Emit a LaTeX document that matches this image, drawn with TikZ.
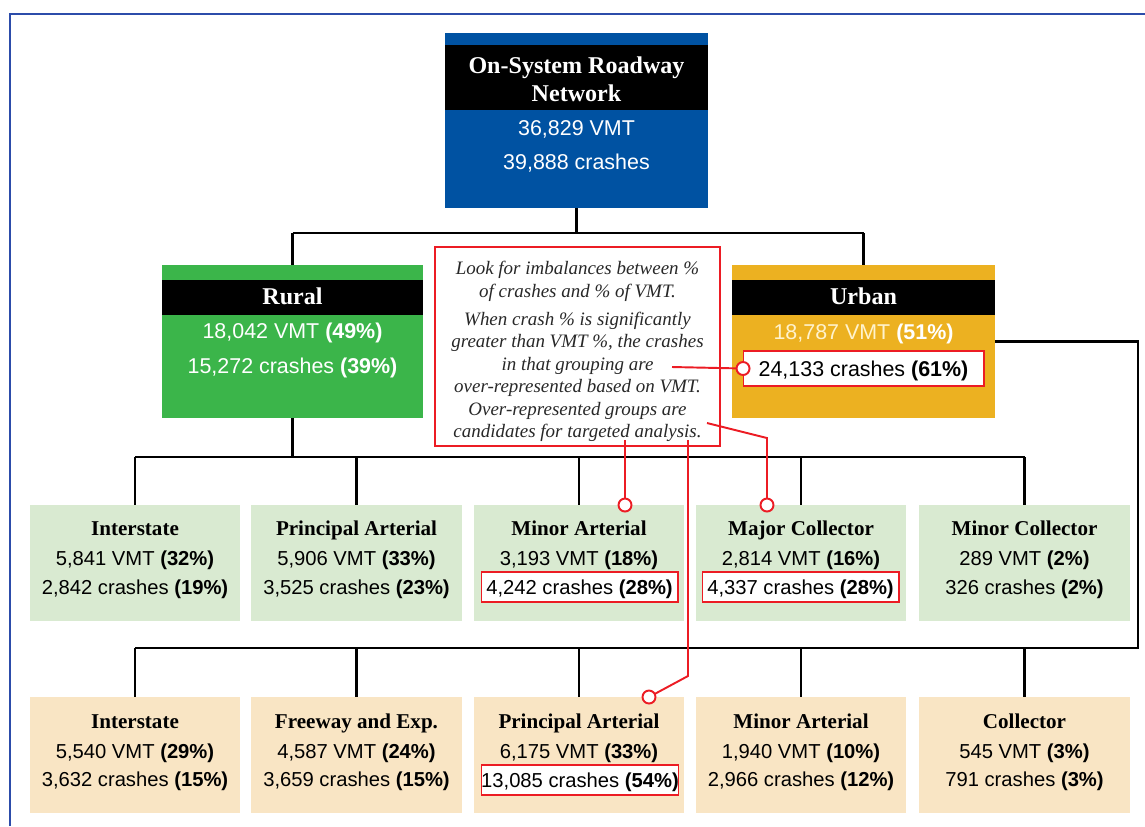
\documentclass[tikz,border=0pt]{standalone}
\usepackage{fontspec}
\setmainfont{Liberation Sans}
\newfontfamily\headfont{Liberation Serif}
\definecolor{netblue}{RGB}{0,82,162}
\definecolor{rurgreen}{RGB}{59,181,74}
\definecolor{urbgold}{RGB}{236,177,33}
\definecolor{rurpale}{RGB}{217,234,209}
\definecolor{urbpale}{RGB}{249,229,196}
\definecolor{notered}{RGB}{236,28,36}
\definecolor{frameblue}{RGB}{44,76,170}
\definecolor{urbtext}{RGB}{255,243,205}
\definecolor{notegray}{RGB}{40,40,40}

\begin{document}
\begin{tikzpicture}[x=0.02cm,y=-0.02cm,
    every node/.style={inner sep=0pt,outer sep=0pt},
    headtxt/.style={text=white,font=\headfont\bfseries\fontsize{13.7}{16}\selectfont,text height=0.8em,text depth=0pt},
    bigtxt/.style={font=\fontsize{12.2}{14}\selectfont,text height=0.86em,text depth=0pt},
    cattitle/.style={font=\headfont\bfseries\fontsize{12}{14}\selectfont,text height=0.8em,text depth=0pt},
    catline/.style={font=\fontsize{11.5}{13}\selectfont,text height=0.86em,text depth=0pt},
    catbox/.style={minimum width=4.22cm,minimum height=2.32cm},
    mainbox/.style={minimum height=3.06cm},
    band/.style={fill=black,minimum height=0.7cm},
    hilite/.style={draw=notered,fill=white,line width=0.6pt,minimum width=3.94cm,minimum height=0.6cm},
    wire/.style={line width=1.3pt},
    redline/.style={draw=notered,line width=1.1pt},
    calldot/.style={circle,draw=notered,fill=white,line width=1.1pt,minimum size=0.26cm}
  ]
  \useasboundingbox (0,0) rectangle (1145,826);
  \draw[frameblue,line width=1.2pt] (10,826) -- (10,14) -- (1145,14);

  \node[fill=netblue,minimum width=5.26cm,minimum height=3.5cm] (net) at (576.5,120.5) {};
  \node[fill=black,minimum width=5.26cm,minimum height=1.3cm] (netband) at (576.5,77.5) {};
  \node[headtxt] (nettop) at (576.5,66) {On-System Roadway};
  \node[headtxt] (netbot) at (576.5,94) {Network};
  \node[bigtxt,text=white] (netvmt) at (576.5,128) {36,829 VMT};
  \node[bigtxt,text=white] (netcr) at (576.5,162) {39,888 crashes};

  \node[mainbox,fill=rurgreen,minimum width=5.22cm] (rural) at (292.5,341.5) {};
  \node[band,minimum width=5.22cm] (rurband) at (292.5,297.5) {};
  \node[headtxt] (rurtitle) at (292.5,297.5) {Rural};
  \node[bigtxt,text=white] (rurvmt) at (292.5,331) {18,042 VMT \textbf{(49\%)}};
  \node[bigtxt,text=white] (rurcr) at (292.5,366) {15,272 crashes \textbf{(39\%)}};

  \node[mainbox,fill=urbgold,minimum width=5.26cm] (urban) at (863.5,341.5) {};
  \node[band,minimum width=5.26cm] (urbband) at (863.5,297.5) {};
  \node[headtxt] (urbtitle) at (863.5,297.5) {Urban};
  \node[bigtxt,text=urbtext] (urbvmt) at (863.5,332) {18,787 VMT \textbf{\color{white}(51\%)}};
  \node[bigtxt,hilite,minimum width=4.82cm,minimum height=0.7cm] (urbcr) at (863.5,368.5) {24,133 crashes \textbf{(61\%)}};

  \node[draw=notered,fill=white,line width=1.1pt,minimum width=5.7cm,minimum height=3.98cm] (note) at (577.5,346.5) {};
  \node[text=notegray,align=center,font=\headfont\itshape\fontsize{10.8}{12.8}\selectfont] (notetext) at (577.5,351.5)
    {Look for imbalances between \%\\ of crashes and \% of VMT.\\[3pt]
     When crash \% is significantly\\ greater than VMT \%, the crashes\\ in that grouping are\\
     over-represented based on VMT.\\ Over-represented groups are\\ candidates for targeted analysis.};

  \node[catbox,fill=rurpale] (rint) at (135,563) {};
  \node[cattitle] at (135,528) {Interstate};
  \node[catline] at (135,558) {5,841 VMT \textbf{(32\%)}};
  \node[catline] at (135,587) {2,842 crashes \textbf{(19\%)}};

  \node[catbox,fill=rurpale] (rpa) at (356.5,563) {};
  \node[cattitle] at (356.5,528) {Principal Arterial};
  \node[catline] at (356.5,558) {5,906 VMT \textbf{(33\%)}};
  \node[catline] at (356.5,587) {3,525 crashes \textbf{(23\%)}};

  \node[catbox,fill=rurpale] (rma) at (579,563) {};
  \node[cattitle] at (579,528) {Minor Arterial};
  \node[catline] at (579,558) {3,193 VMT \textbf{(18\%)}};
  \node[catline,hilite] (rmacr) at (579.5,587) {4,242 crashes \textbf{(28\%)}};

  \node[catbox,fill=rurpale] (rmjc) at (801,563) {};
  \node[cattitle] at (801,528) {Major Collector};
  \node[catline] at (801,558) {2,814 VMT \textbf{(16\%)}};
  \node[catline,hilite] (rmjccr) at (800.5,587) {4,337 crashes \textbf{(28\%)}};

  \node[catbox,fill=rurpale] (rmnc) at (1024.5,563) {};
  \node[cattitle] at (1024.5,528) {Minor Collector};
  \node[catline] at (1024.5,558) {289 VMT \textbf{(2\%)}};
  \node[catline] at (1024.5,587) {326 crashes \textbf{(2\%)}};

  \node[catbox,fill=urbpale] (uint) at (135,755) {};
  \node[cattitle] at (135,721) {Interstate};
  \node[catline] at (135,751) {5,540 VMT \textbf{(29\%)}};
  \node[catline] at (135,779) {3,632 crashes \textbf{(15\%)}};

  \node[catbox,fill=urbpale] (ufwy) at (356.5,755) {};
  \node[cattitle] at (356.5,721) {Freeway and Exp.};
  \node[catline] at (356.5,751) {4,587 VMT \textbf{(24\%)}};
  \node[catline] at (356.5,779) {3,659 crashes \textbf{(15\%)}};

  \node[catbox,fill=urbpale] (upa) at (579,755) {};
  \node[cattitle] at (579,721) {Principal Arterial};
  \node[catline] at (579,751) {6,175 VMT \textbf{(33\%)}};
  \node[catline,hilite] (upacr) at (580,780) {13,085 crashes \textbf{(54\%)}};

  \node[catbox,fill=urbpale] (uma) at (801,755) {};
  \node[cattitle] at (801,721) {Minor Arterial};
  \node[catline] at (801,751) {1,940 VMT \textbf{(10\%)}};
  \node[catline] at (801,779) {2,966 crashes \textbf{(12\%)}};

  \node[catbox,fill=urbpale] (ucol) at (1024.5,755) {};
  \node[cattitle] at (1024.5,721) {Collector};
  \node[catline] at (1024.5,751) {545 VMT \textbf{(3\%)}};
  \node[catline] at (1024.5,779) {791 crashes \textbf{(3\%)}};

  \coordinate (tbus) at (0,233);
  \coordinate (rbus) at (0,457);
  \coordinate (ubus) at (0,648);
  \coordinate (uturn) at (1138,0);
  \begin{scope}[wire]
    \draw (net.south) -- (net.south |- tbus);
    \draw (rural.north |- tbus) -- (urban.north |- tbus);
    \draw (rural.north |- tbus) -- (rural.north);
    \draw (urban.north |- tbus) -- (urban.north);
    \draw (rural.south) -- (rural.south |- rbus);
    \draw (rint.north |- rbus) -- (rmnc.north |- rbus);
    \foreach \b in {rint,rpa,rma,rmjc,rmnc}
      \draw (\b.north |- rbus) -- (\b.north);
    \draw (urban.east) -| (uturn |- ubus) -- (uint.north |- ubus);
    \foreach \b in {uint,ufwy,upa,uma,ucol}
      \draw (\b.north |- ubus) -- (\b.north);
  \end{scope}

  \coordinate (n1) at (672,367);
  \coordinate (n2) at (625,440);
  \coordinate (n3) at (707,423);
  \coordinate (k3) at (767,438);
  \coordinate (n4) at (688,440);
  \coordinate (k4) at (688,676);
  \node[calldot] (d1) at (urbcr.west) {};
  \node[calldot] (d2) at (n2 |- rma.north) {};
  \node[calldot] (d3) at (k3 |- rmjc.north) {};
  \node[calldot] (d4) at (649,697) {};
  \begin{scope}[redline]
    \draw (n1) -- (d1);
    \draw (n2) -- (d2);
    \draw (n3) -- (k3) -- (d3);
    \draw (n4) -- (k4) -- (d4);
  \end{scope}
\end{tikzpicture}
\end{document}
